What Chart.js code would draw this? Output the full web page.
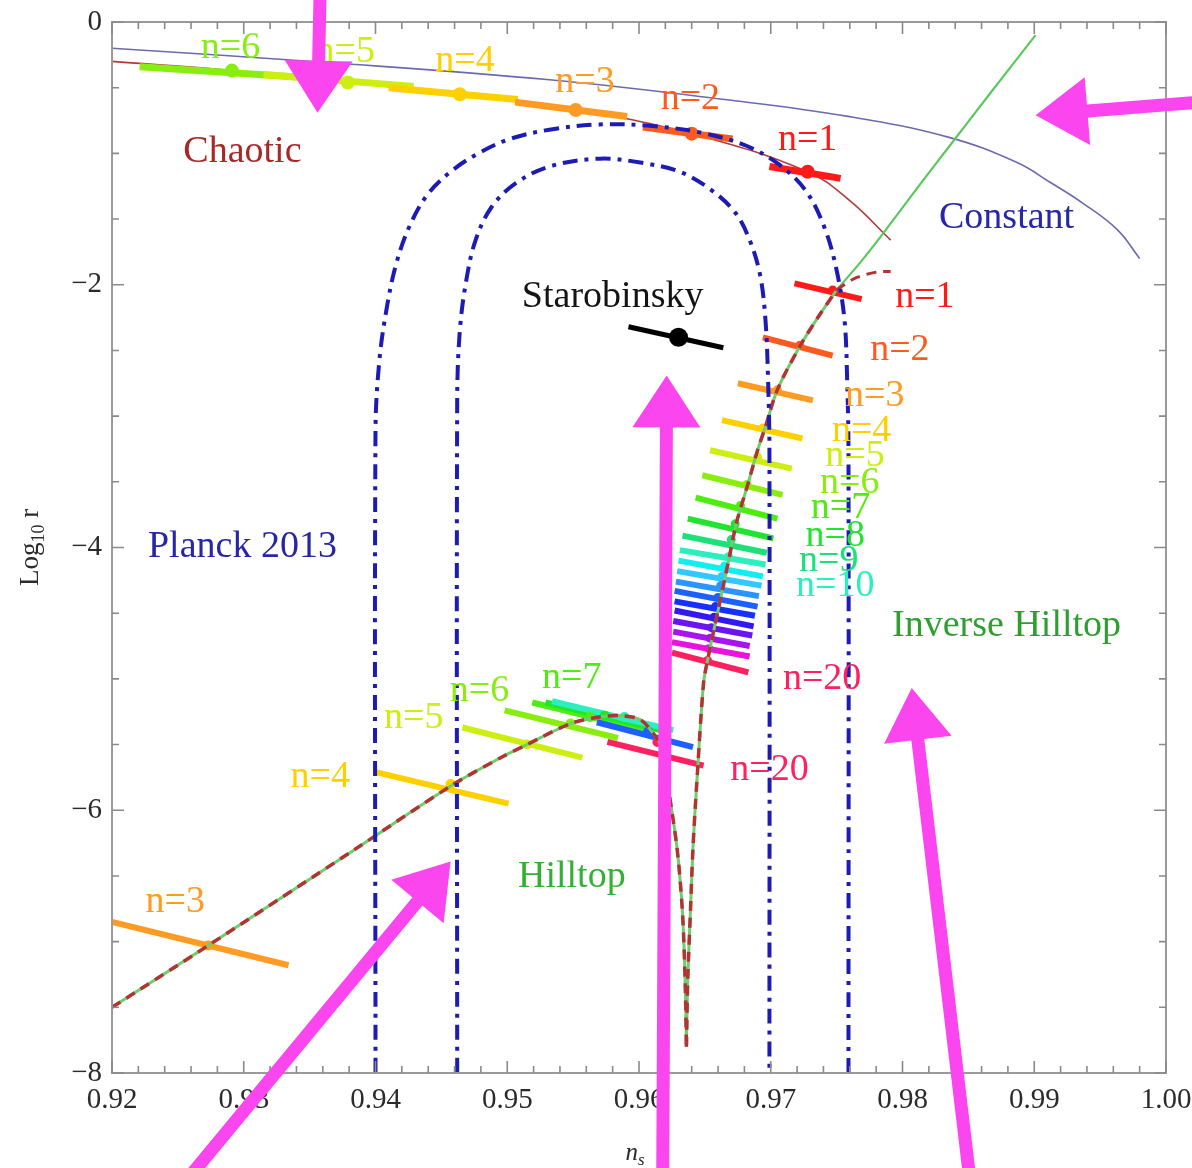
<!DOCTYPE html>
<html>
<head>
<meta charset="utf-8">
<title>Inflationary models in the (n_s, log10 r) plane</title>
<script src="https://cdn.jsdelivr.net/npm/chart.js@4.4.1/dist/chart.umd.min.js"></script>
<style>
  html, body { margin: 0; padding: 0; background: #ffffff; }
  canvas { display: block; }
</style>
</head>
<body>
<canvas id="chart" width="1192" height="1168"></canvas>
<script>
// ---------- axes ----------
const nsTicks = [0.92, 0.93, 0.94, 0.95, 0.96, 0.97, 0.98, 0.99, 1.00];
const nsTickLabels = ['0.92', '0.93', '0.94', '0.95', '0.96', '0.97', '0.98', '0.99', '1.00'];
const logRTicks = [0, -2, -4, -6, -8];
const logRTickLabels = ['0', '\u22122', '\u22124', '\u22126', '\u22128'];

// ---------- constant potential ----------
const constantNs   = [0.9200, 0.9366, 0.9532, 0.9665, 0.9760, 0.9836, 0.9887, 0.9912, 0.9937, 0.9963, 0.9980];
const constantLogR = [-0.20, -0.31, -0.44, -0.59, -0.72, -0.88, -1.07, -1.22, -1.38, -1.58, -1.80];

// ---------- chaotic ----------
const chaoticCurveNs   = [0.9200, 0.9291, 0.9379, 0.9464, 0.9552, 0.9640, 0.9728, 0.9760, 0.9791];
const chaoticCurveLogR = [-0.30, -0.37, -0.46, -0.55, -0.67, -0.85, -1.14, -1.36, -1.66];
const chaoticN       = [6, 5, 4, 3, 2, 1];
const chaoticDotNs   = [0.9291, 0.9379, 0.9464, 0.9552, 0.9640, 0.9728];
const chaoticDotLogR = [-0.37, -0.46, -0.55, -0.67, -0.85, -1.14];
const chaoticLoNs    = [0.9221, 0.9315, 0.9410, 0.9506, 0.9603, 0.9699];
const chaoticLoLogR  = [-0.34, -0.40, -0.50, -0.61, -0.80, -1.10];
const chaoticHiNs    = [0.9358, 0.9429, 0.9508, 0.9591, 0.9671, 0.9753];
const chaoticHiLogR  = [-0.43, -0.49, -0.59, -0.72, -0.89, -1.19];
const chaoticLabelNs   = [0.9290, 0.9377, 0.9468, 0.9559, 0.9639, 0.9728];
const chaoticLabelLogR = [-0.20, -0.23, -0.30, -0.46, -0.59, -0.90];

// ---------- Planck 2013 contours ----------
const planckOuterNs   = [0.9400, 0.9400, 0.9403, 0.9409, 0.9416, 0.9426, 0.9439, 0.9457, 0.9478, 0.9502, 0.9532, 0.9570,
                         0.9608, 0.9646, 0.9681, 0.9707, 0.9727, 0.9741, 0.9750, 0.9756, 0.9758, 0.9759, 0.9759];
const planckOuterLogR = [-8.00, -3.11, -2.57, -2.15, -1.83, -1.55, -1.32, -1.14, -1.00, -0.89, -0.82, -0.78,
                         -0.79, -0.84, -0.94, -1.09, -1.29, -1.57, -1.89, -2.27, -2.73, -3.26, -8.00];
const planckInnerNs   = [0.9462, 0.9462, 0.9464, 0.9469, 0.9476, 0.9488, 0.9506, 0.9532, 0.9570, 0.9601,
                         0.9631, 0.9655, 0.9673, 0.9684, 0.9692, 0.9696, 0.9698, 0.9699, 0.9699];
const planckInnerLogR = [-8.00, -2.88, -2.35, -1.96, -1.66, -1.41, -1.23, -1.10, -1.04, -1.07,
                         -1.14, -1.28, -1.45, -1.66, -1.93, -2.27, -2.73, -3.26, -8.00];

// ---------- hilltop / inverse hilltop trajectories ----------
const hilltopCurveNs   = [0.9200, 0.9273, 0.9384, 0.9458, 0.9495, 0.9515, 0.9548, 0.9570, 0.9586, 0.9601,
                          0.9612, 0.9618, 0.9622, 0.9629, 0.9633, 0.9635, 0.9636];
const hilltopCurveLogR = [-7.50, -7.03, -6.30, -5.81, -5.60, -5.50, -5.34, -5.29, -5.28, -5.31,
                          -5.43, -5.54, -5.81, -6.30, -6.78, -7.29, -7.80];
const inverseCurveNs   = [0.9636, 0.9637, 0.9639, 0.9641, 0.9644, 0.9649, 0.9652, 0.9660, 0.9668, 0.9674,
                          0.9682, 0.9690, 0.9696, 0.9705, 0.9722, 0.9737, 0.9750];
const inverseCurveLogR = [-7.80, -7.29, -6.78, -6.28, -5.77, -5.03, -4.86, -4.48, -4.10, -3.81,
                          -3.54, -3.26, -3.08, -2.80, -2.47, -2.23, -2.04];
const inverseTailNs    = [0.9750, 0.9768, 0.9783, 0.9813, 0.9836, 0.9866, 0.9901];
const inverseTailLogR  = [-2.04, -1.83, -1.64, -1.24, -0.94, -0.55, -0.10];
const hilltopHookNs    = [0.9750, 0.9762, 0.9773, 0.9783, 0.9791];
const hilltopHookLogR  = [-2.04, -1.96, -1.92, -1.90, -1.90];

// ---------- hilltop predictions ----------
const hilltopN       = [3, 4, 5, 6, 7, 8, 10, 14, 20];
const hilltopDotNs   = [0.9273, 0.9457, 0.9515, 0.9548, 0.9563, 0.9574, 0.9589, 0.9607, 0.9614];
const hilltopDotLogR = [-7.03, -5.80, -5.50, -5.34, -5.29, -5.28, -5.29, -5.40, -5.48];
const hilltopLoNs    = [0.9200, 0.9400, 0.9466, 0.9498, 0.9519, 0.9529, 0.9534, 0.9568, 0.9576];
const hilltopLoLogR  = [-6.85, -5.71, -5.37, -5.24, -5.18, -5.18, -5.17, -5.33, -5.48];
const hilltopHiNs    = [0.9334, 0.9501, 0.9557, 0.9584, 0.9608, 0.9616, 0.9626, 0.9641, 0.9649];
const hilltopHiLogR  = [-7.18, -5.95, -5.60, -5.45, -5.40, -5.39, -5.39, -5.52, -5.66];
const hilltopLabelN    = [3, 4, 5, 6, 7, 20];
const hilltopLabelNs   = [0.9248, 0.9358, 0.9429, 0.9479, 0.9549, 0.9699];
const hilltopLabelLogR = [-6.70, -5.75, -5.30, -5.09, -4.99, -5.69];

// ---------- inverse hilltop predictions ----------
const inverseN       = [1, 2, 3, 4, 5, 6, 7, 8, 9, 10, 11, 12, 13, 14, 15, 16, 17, 18, 19, 20];
const inverseDotNs   = [0.9747, 0.9722, 0.9705, 0.9694, 0.9690, 0.9682, 0.9677, 0.9673, 0.9670, 0.9668,
                        0.9665, 0.9663, 0.9662, 0.9660, 0.9658, 0.9657, 0.9655, 0.9654, 0.9653, 0.9652];
const inverseDotLogR = [-2.04, -2.46, -2.80, -3.09, -3.31, -3.52, -3.68, -3.82, -3.94, -4.07,
                        -4.14, -4.22, -4.29, -4.38, -4.45, -4.53, -4.61, -4.69, -4.77, -4.86];
const inverseLoNs    = [0.9718, 0.9694, 0.9675, 0.9663, 0.9654, 0.9648, 0.9643, 0.9637, 0.9633, 0.9631,
                        0.9630, 0.9629, 0.9628, 0.9627, 0.9627, 0.9627, 0.9626, 0.9626, 0.9625, 0.9625];
const inverseLoLogR  = [-1.99, -2.40, -2.75, -3.03, -3.26, -3.45, -3.62, -3.78, -3.91, -4.02,
                        -4.10, -4.18, -4.26, -4.33, -4.41, -4.48, -4.56, -4.64, -4.72, -4.80];
const inverseHiNs    = [0.9769, 0.9747, 0.9732, 0.9724, 0.9716, 0.9709, 0.9705, 0.9702, 0.9697, 0.9696,
                        0.9694, 0.9693, 0.9691, 0.9690, 0.9688, 0.9687, 0.9686, 0.9684, 0.9684, 0.9683];
const inverseHiLogR  = [-2.11, -2.54, -2.88, -3.17, -3.40, -3.60, -3.78, -3.93, -4.04, -4.13,
                        -4.22, -4.29, -4.37, -4.45, -4.52, -4.60, -4.67, -4.75, -4.83, -4.95];
const inverseLabelN    = [1, 2, 3, 4, 5, 6, 7, 8, 9, 10, 20];
const inverseLabelNs   = [0.9817, 0.9798, 0.9779, 0.9769, 0.9764, 0.9760, 0.9753, 0.9749, 0.9744, 0.9749, 0.9739];
const inverseLabelLogR = [-2.09, -2.50, -2.85, -3.11, -3.30, -3.51, -3.70, -3.91, -4.10, -4.29, -5.00];

// ---------- Starobinsky ----------
const staroNs   = [0.9592, 0.9664];
const staroLogR = [-2.32, -2.48];
const staroDotNs = [0.9630];
const staroDotLogR = [-2.40];

// ---------- region names ----------
const regionNames   = ['Chaotic', 'Constant', 'Starobinsky', 'Planck 2013', 'Inverse Hilltop', 'Hilltop'];
const regionNs      = [0.9299, 0.9879, 0.9580, 0.9299, 0.9879, 0.9549];
const regionLogR    = [-0.99, -1.49, -2.09, -4.00, -4.60, -6.51];

// ---------- pointer arrows ----------
const arrowTailNs   = [0.9358, 1.0025, 0.9618, 0.9258, 0.9851];
const arrowTailLogR = [0.25, -0.61, -8.80, -8.80, -8.80];
const arrowTipNs    = [0.9356, 0.9901, 0.9621, 0.9457, 0.9807];
const arrowTipLogR  = [-0.69, -0.71, -2.69, -6.39, -5.07];

// ---------- styling ----------
const SERIF = '"Liberation Serif", "Times New Roman", serif';
const nColor = {
  1: '#ff1a1a', 2: '#ff5a1e', 3: '#ff9a22', 4: '#ffd000', 5: '#cdee10', 6: '#88ee10',
  7: '#4cee10', 8: '#22e430', 9: '#1ee07a', 10: '#2ceebe', 11: '#10eef0', 12: '#30c8ff',
  13: '#2a94ff', 14: '#1e60ff', 15: '#1830ff', 16: '#3418f0', 17: '#6a14ee', 18: '#a814ee',
  19: '#e614dc', 20: '#ff2060'
};
const regionColor = ['#a82828', '#2626a6', '#141414', '#2626a6', '#2e9e2e', '#33b033'];
const ARROW_COLOR = '#fb46f0';

const pts = (xs, ys) => xs.map((x, i) => ({ x, y: ys[i] }));

function curve(xs, ys, color, width, order, dash, tension) {
  return {
    data: pts(xs, ys), showLine: true, fill: false,
    borderColor: color, borderWidth: width, borderDash: dash || [],
    pointRadius: 0, pointHoverRadius: 0,
    tension: tension === undefined ? 0.4 : tension, order
  };
}
function bar(x0, y0, x1, y1, color, width, order) {
  return {
    data: [{ x: x0, y: y0 }, { x: x1, y: y1 }], showLine: true, fill: false,
    borderColor: color, borderWidth: width, borderCapStyle: 'butt',
    pointRadius: 0, pointHoverRadius: 0, tension: 0, order
  };
}
function dots(xs, ys, colors, radius, order) {
  return {
    data: pts(xs, ys), showLine: false,
    pointRadius: radius, pointHoverRadius: radius, pointStyle: 'circle',
    pointBackgroundColor: colors, pointBorderColor: colors, pointBorderWidth: 0, order
  };
}

const datasets = [];
// thin background curves
datasets.push(curve(constantNs, constantLogR, '#6a6ab0', 1.6, 20));
datasets.push(curve(chaoticCurveNs, chaoticCurveLogR, '#b03a3a', 1.6, 20));

// chaotic bars and points (n = 1 on top)
chaoticN.forEach((n, i) => {
  datasets.push(bar(chaoticLoNs[i], chaoticLoLogR[i], chaoticHiNs[i], chaoticHiLogR[i], nColor[n], 7, 15 + n * 0.01));
});
datasets.push(dots(chaoticDotNs, chaoticDotLogR, chaoticN.map(n => nColor[n]), 7, 14));

// inverse hilltop bars and points
inverseN.forEach((n, i) => {
  datasets.push(bar(inverseLoNs[i], inverseLoLogR[i], inverseHiNs[i], inverseHiLogR[i], nColor[n], 6, 13 + n * 0.01));
});
datasets.push(dots(inverseDotNs, inverseDotLogR, inverseN.map(n => nColor[n]), 4.5, 12.5));

// hilltop bars and points (larger n on top)
hilltopN.forEach((n, i) => {
  datasets.push(bar(hilltopLoNs[i], hilltopLoLogR[i], hilltopHiNs[i], hilltopHiLogR[i], nColor[n], 6, 13 - n * 0.01));
});
datasets.push(dots(hilltopDotNs, hilltopDotLogR, hilltopN.map(n => nColor[n]), 5, 12.5));

// hilltop trajectories: solid green underneath, dashed dark red on top
datasets.push(curve(hilltopCurveNs, hilltopCurveLogR, '#6ccf6c', 3, 11, [], 0.3));
datasets.push(curve(inverseCurveNs, inverseCurveLogR, '#6ccf6c', 3, 11, [], 0.3));
datasets.push(curve(inverseTailNs, inverseTailLogR, '#5cc85c', 2.2, 11, [], 0.3));
datasets.push(curve(hilltopCurveNs, hilltopCurveLogR, '#b03434', 3.5, 10, [10, 7], 0.3));
datasets.push(curve(inverseCurveNs, inverseCurveLogR, '#b03434', 3.5, 10, [10, 7], 0.3));
datasets.push(curve(hilltopHookNs, hilltopHookLogR, '#b03434', 3, 10, [10, 7], 0.3));

// Planck 2013 contours
datasets.push(curve(planckOuterNs, planckOuterLogR, '#1c1cb4', 4, 8, [15, 7, 4, 7], 0.35));
datasets.push(curve(planckInnerNs, planckInnerLogR, '#1c1cb4', 4, 8, [15, 7, 4, 7], 0.35));

// Starobinsky
datasets.push(bar(staroNs[0], staroLogR[0], staroNs[1], staroLogR[1], '#000000', 5, 7));
datasets.push(dots(staroDotNs, staroDotLogR, ['#000000'], 9.5, 6));

// ---------- frame, labels and arrows ----------
function drawArrow(ctx, x0, y0, x1, y1) {
  const dx = x1 - x0, dy = y1 - y0, L = Math.hypot(dx, dy);
  const ux = dx / L, uy = dy / L;
  const headLen = 52, headHalf = 34;
  const bx = x1 - ux * headLen, by = y1 - uy * headLen;
  ctx.strokeStyle = ARROW_COLOR;
  ctx.fillStyle = ARROW_COLOR;
  ctx.lineWidth = 13;
  ctx.lineCap = 'round';
  ctx.beginPath();
  ctx.moveTo(x0, y0);
  ctx.lineTo(bx + ux * 6, by + uy * 6);
  ctx.stroke();
  ctx.beginPath();
  ctx.moveTo(x1, y1);
  ctx.lineTo(bx - uy * headHalf, by + ux * headHalf);
  ctx.lineTo(bx + uy * headHalf, by - ux * headHalf);
  ctx.closePath();
  ctx.fill();
}

const decor = {
  id: 'decor',
  afterDatasetsDraw(chart) {
    const ctx = chart.ctx;
    const xs = chart.scales.x, ys = chart.scales.y;
    const X = v => xs.getPixelForValue(v), Y = v => ys.getPixelForValue(v);
    const { left, right, top, bottom } = chart.chartArea;

    ctx.save();
    // frame with inward ticks on all four sides
    ctx.strokeStyle = '#9a9a9a';
    ctx.lineWidth = 2;
    ctx.strokeRect(left, top, right - left, bottom - top);
    ctx.lineWidth = 1.6;
    ctx.strokeStyle = '#8a8a8a';
    ctx.beginPath();
    for (let k = 0; k <= 40; k++) {
      const px = X(0.92 + k * 0.002);
      const len = k % 5 === 0 ? 12 : 7;
      ctx.moveTo(px, bottom); ctx.lineTo(px, bottom - len);
      ctx.moveTo(px, top); ctx.lineTo(px, top + len);
    }
    for (let k = 0; k <= 16; k++) {
      const py = Y(-8 + k * 0.5);
      const len = k % 4 === 0 ? 12 : 7;
      ctx.moveTo(left, py); ctx.lineTo(left + len, py);
      ctx.moveTo(right, py); ctx.lineTo(right - len, py);
    }
    ctx.stroke();

    // text labels
    ctx.textAlign = 'center';
    ctx.textBaseline = 'middle';
    ctx.font = '38px ' + SERIF;
    regionNames.forEach((t, i) => {
      ctx.fillStyle = regionColor[i];
      ctx.fillText(t, X(regionNs[i]), Y(regionLogR[i]));
    });
    const nText = (arrN, arrX, arrY) => arrN.forEach((n, i) => {
      ctx.fillStyle = nColor[n];
      ctx.fillText('n=' + n, X(arrX[i]), Y(arrY[i]));
    });
    nText(chaoticN, chaoticLabelNs, chaoticLabelLogR);
    nText(inverseLabelN, inverseLabelNs, inverseLabelLogR);
    nText(hilltopLabelN, hilltopLabelNs, hilltopLabelLogR);

    // axis titles
    ctx.fillStyle = '#2b2b2b';
    ctx.textBaseline = 'alphabetic';
    ctx.textAlign = 'left';
    ctx.save();
    ctx.translate(38, (top + bottom) / 2);
    ctx.rotate(-Math.PI / 2);
    const f1 = '27px ' + SERIF, f2 = '18px ' + SERIF;
    ctx.font = f1; const wLog = ctx.measureText('Log').width; const wR = ctx.measureText(' r').width;
    ctx.font = f2; const w10 = ctx.measureText('10').width;
    let x0 = -(wLog + w10 + wR) / 2;
    ctx.font = f1; ctx.fillText('Log', x0, 0); x0 += wLog;
    ctx.font = f2; ctx.fillText('10', x0, 6); x0 += w10;
    ctx.font = f1; ctx.fillText(' r', x0, 0);
    ctx.restore();

    ctx.font = 'italic 25px ' + SERIF;
    const wn = ctx.measureText('n').width;
    ctx.font = 'italic 17px ' + SERIF;
    const ws = ctx.measureText('s').width;
    const cx = (left + right) / 2 - (wn + ws) / 2 - 4;
    ctx.font = 'italic 25px ' + SERIF;
    ctx.fillText('n', cx, 1160);
    ctx.font = 'italic 17px ' + SERIF;
    ctx.fillText('s', cx + wn, 1165);

    // pointer arrows
    arrowTailNs.forEach((v, i) => {
      drawArrow(ctx, X(v), Y(arrowTailLogR[i]), X(arrowTipNs[i]), Y(arrowTipLogR[i]));
    });
    ctx.restore();
  }
};

new Chart(document.getElementById('chart'), {
  type: 'scatter',
  data: { datasets },
  options: {
    responsive: false,
    animation: false,
    devicePixelRatio: 1,
    events: [],
    layout: { padding: { left: 0, top: 22, right: 26, bottom: 0 } },
    plugins: { legend: { display: false }, tooltip: { enabled: false } },
    scales: {
      x: {
        type: 'linear', min: 0.92, max: 1.0,
        afterBuildTicks: s => { s.ticks = nsTicks.map(v => ({ value: v })); },
        afterFit: s => { s.height = 95; s.paddingLeft = 0; s.paddingRight = 0; },
        grid: { display: false, drawTicks: false },
        border: { display: false },
        ticks: {
          autoSkip: false, maxRotation: 0, minRotation: 0, padding: 10,
          color: '#2b2b2b', font: { family: SERIF, size: 29 },
          callback: (v, i) => nsTickLabels[i]
        }
      },
      y: {
        type: 'linear', min: -8, max: 0,
        afterBuildTicks: s => { s.ticks = logRTicks.map(v => ({ value: v })); },
        afterFit: s => { s.width = 112; s.paddingTop = 0; s.paddingBottom = 0; },
        grid: { display: false, drawTicks: false },
        border: { display: false },
        ticks: {
          autoSkip: false, padding: 10,
          color: '#2b2b2b', font: { family: SERIF, size: 29 },
          callback: (v, i) => logRTickLabels[i]
        }
      }
    }
  },
  plugins: [decor]
});
</script>
</body>
</html>
